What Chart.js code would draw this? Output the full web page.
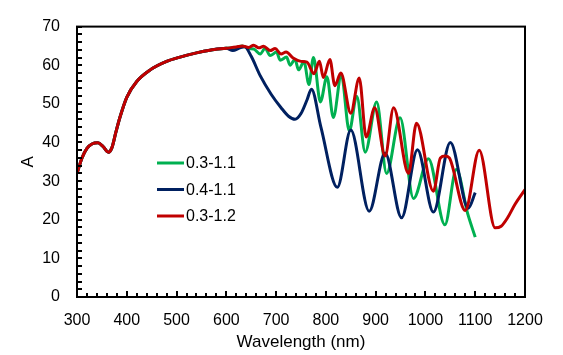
<!DOCTYPE html>
<html>
<head>
<meta charset="utf-8">
<script src="https://cdn.jsdelivr.net/npm/chart.js@4"></script>
<style>
  html, body { margin: 0; padding: 0; background: #fff; }
  #wrap { width: 563px; height: 355px; position: relative; }
</style>
</head>
<body>
<div id="wrap"><canvas id="c" width="563" height="355"></canvas></div>
<script>
// ---- data (wavelength in nm, A) ----
const seriesNames = ['0.3-1.1', '0.4-1.1', '0.3-1.2'];
const seriesColors = ['#00B050', '#002060', '#C00000'];

const commonWl = [300, 310, 320, 330, 342, 352, 363, 370, 378, 386, 400, 420, 447, 480, 507, 540, 567, 600];
const commonA  = [32, 36, 38.5, 39.6, 39.9, 39, 37.5, 38.6, 42.6, 46.4, 51.7, 55.8, 58.8, 61, 62.1, 63.2, 63.9, 64.4];

const greenWl = [620, 632, 645, 655, 668, 678, 688, 701, 708, 721, 728, 738, 745, 756, 766, 775, 789, 802, 815, 831, 847, 862, 879, 902, 922, 949, 976, 1006, 1039, 1062, 1085, 1100];
const greenA  = [64.6, 65, 64.3, 64.2, 62.9, 64.4, 62.5, 63.4, 61.3, 62.1, 60, 61.5, 58.8, 60.9, 55, 62, 50.5, 57, 46.5, 57.5, 43, 52, 37.5, 50.5, 32, 46.4, 25.5, 35.8, 18.7, 33, 21.5, 15.5];

const blueWl = [613, 627, 637, 650, 668, 690, 710, 725, 738, 750, 762, 771, 790, 823, 850, 887, 919, 952, 984, 1016, 1050, 1086, 1100];
const blueA  = [63.8, 64.5, 64.8, 62.3, 57.3, 52.5, 49, 46.8, 46, 47.5, 51, 53.8, 44, 28.4, 43.2, 22.2, 37.3, 20.5, 38.1, 22, 40, 23, 27];

const redWl = [620, 632, 645, 655, 665, 675, 688, 698, 710, 720, 735, 750, 762, 776, 787, 795, 808, 818, 830, 850, 867, 881, 898, 919, 936, 966, 982, 1016, 1030, 1040, 1048, 1080, 1108, 1140, 1152, 1165, 1180, 1200];
const redA  = [64.7, 65, 64.6, 65.2, 64.5, 64.9, 63.8, 64.3, 62.9, 63.4, 61.8, 61, 60.8, 57.8, 61, 56.8, 61.5, 54.7, 58, 47.6, 56.7, 41.4, 49, 36.5, 49, 32, 45, 27.4, 36, 36.5, 36, 22.4, 38, 17.9, 18.3, 20.5, 24, 27.8];

const xMin = 300, xMax = 1200, xStep = 100, xMinorStep = 20;
const yMin = 0, yMax = 70, yStep = 10, yMinorStep = 2;

function pts(wl, a) { return wl.map((w, i) => ({ x: w, y: a[i] })); }

const seriesData = [
  pts(commonWl.concat(greenWl), commonA.concat(greenA)),
  pts(commonWl.concat(blueWl), commonA.concat(blueA)),
  pts(commonWl.concat(redWl), commonA.concat(redA))
];
const drawOrder = [3, 2, 1];

const FONT = 'Liberation Sans, Arial, sans-serif';

const framePlugin = {
  id: 'frame',
  afterDraw(chart) {
    const { ctx, chartArea: a, scales: { x, y } } = chart;
    ctx.save();
    ctx.strokeStyle = '#000';
    ctx.lineWidth = 2;
    ctx.beginPath();
    for (let v = xMin; v <= xMax; v += xMinorStep) {
      const px = Math.round(x.getPixelForValue(v));
      const len = (v % xStep === 0) ? 6 : 4;
      ctx.moveTo(px, a.bottom);
      ctx.lineTo(px, a.bottom - len);
    }
    for (let v = yMin; v <= yMax; v += yMinorStep) {
      const py = Math.round(y.getPixelForValue(v));
      ctx.moveTo(a.left, py);
      ctx.lineTo(a.left + 5, py);
    }
    ctx.stroke();
    ctx.strokeRect(a.left, a.top, a.right - a.left, a.bottom - a.top);

    // legend
    ctx.font = '16px ' + FONT;
    ctx.textBaseline = 'middle';
    ctx.textAlign = 'left';
    chart.data.datasets.forEach((ds, i) => {
      const ly = 163 + i * 26.5;
      ctx.strokeStyle = ds.borderColor;
      ctx.lineWidth = 3;
      ctx.beginPath();
      ctx.moveTo(157, ly);
      ctx.lineTo(184, ly);
      ctx.stroke();
      ctx.fillStyle = '#000';
      ctx.fillText(ds.label, 186, ly + 1);
    });
    ctx.restore();
  }
};

new Chart(document.getElementById('c'), {
  type: 'line',
  data: {
    datasets: seriesNames.map((n, i) => ({
      label: n,
      data: seriesData[i],
      borderColor: seriesColors[i],
      backgroundColor: seriesColors[i],
      borderWidth: 3,
      pointRadius: 0,
      fill: false,
      cubicInterpolationMode: 'monotone',
      order: drawOrder[i]
    }))
  },
  options: {
    responsive: false,
    animation: false,
    events: [],
    layout: { padding: { left: 0, right: 38, top: 15, bottom: 0 } },
    plugins: { legend: { display: false }, tooltip: { enabled: false } },
    scales: {
      x: {
        type: 'linear',
        min: xMin, max: xMax,
        grid: { display: false, drawTicks: false },
        border: { display: false },
        ticks: { stepSize: xStep, padding: 14, color: '#000', font: { family: FONT, size: 16 }, maxRotation: 0, callback: v => String(v) },
        title: { display: true, text: 'Wavelength (nm)', color: '#000', font: { family: FONT, size: 17 }, padding: { top: 0, bottom: 2 } },
        afterFit(s) { s.height = 58; }
      },
      y: {
        type: 'linear',
        min: yMin, max: yMax,
        grid: { display: false, drawTicks: false },
        border: { display: false },
        ticks: { stepSize: yStep, padding: 17, color: '#000', font: { family: FONT, size: 16 }, callback: v => String(v) },
        title: { display: true, text: 'A', color: '#000', font: { family: FONT, size: 17 }, padding: { top: 18, bottom: 0 } },
        afterFit(s) { s.width = 77; }
      }
    }
  },
  plugins: [framePlugin]
});
</script>
</body>
</html>
